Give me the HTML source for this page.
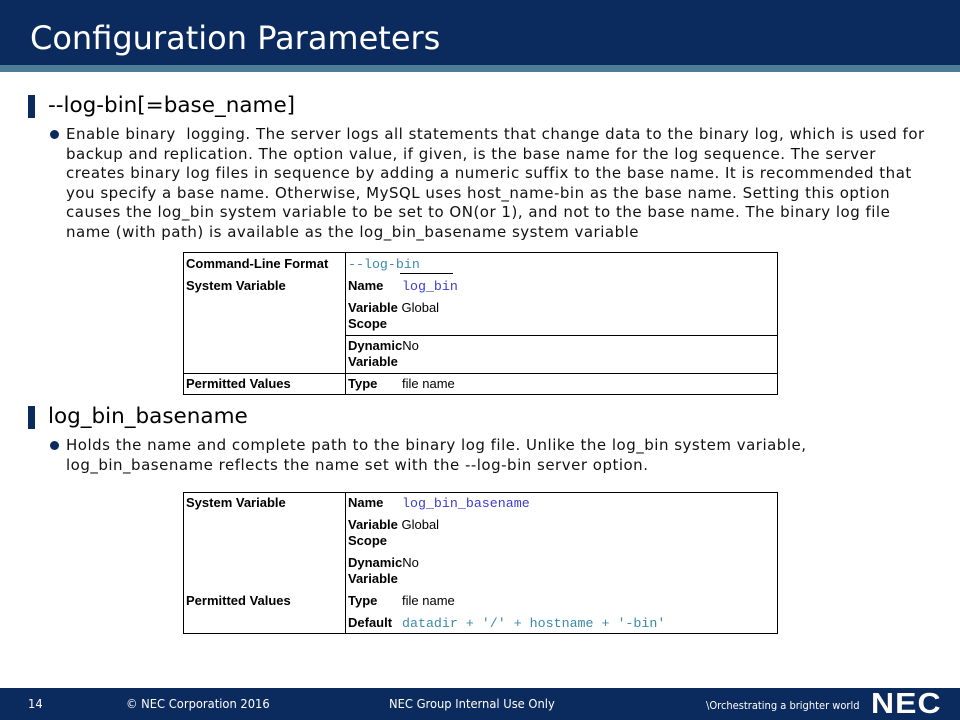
<!DOCTYPE html>
<html><head><meta charset="utf-8"><style>
*{margin:0;padding:0;box-sizing:border-box}
body{width:960px;height:720px;position:relative;background:#fff;overflow:hidden;font-family:"DejaVu Sans","Liberation Sans",sans-serif}
.a{position:absolute;white-space:nowrap}
.hdr{left:0;top:0;width:960px;height:65px;background:#0b2a5e}
.strip{left:0;top:65px;width:960px;height:7px;background:#4d7d96}
.title{left:30px;top:17px;font-size:32px;color:#fff;line-height:42px}
.mk{width:7px;height:23px;background:#0b2a5e}
.h{font-size:21.5px;color:#000;line-height:24px}
.dot{width:9px;height:9px;border-radius:50%;background:#0b2a5e}
.p{font-size:15px;letter-spacing:0.5px;line-height:19.5px;color:#111}
.t{font-family:"Liberation Sans",Arial,sans-serif;font-size:13px;color:#000;line-height:14px}
.b{font-weight:bold}
.m{font-family:"Liberation Mono",monospace;font-size:13.3px;color:#3b3bd0}
.m2{font-family:"Liberation Mono",monospace;font-size:13.3px;color:#3a8aa8}
.box{border:1px solid #000}
.ln{background:#000}
.ftr{left:0;top:688px;width:960px;height:32px;background:#0b2a5e}
.f{font-size:12.8px;color:#fff;line-height:16px;top:697px;font-family:"DejaVu Sans Condensed","DejaVu Sans",sans-serif}
</style></head><body>
<div class="a hdr"></div><div class="a strip"></div>
<div class="a title">Configuration Parameters</div>

<div class="a mk" style="left:28px;top:95px"></div>
<div class="a h" style="left:48px;top:94px">--log-bin[=base_name]</div>
<div class="a dot" style="left:50px;top:130px"></div>
<div class="a p" style="left:66px;top:125px">Enable binary&nbsp; logging. The server logs all statements that change data to the binary log, which is used for<br>backup and replication. The option value, if given, is the base name for the log sequence. The server<br>creates binary log files in sequence by adding a numeric suffix to the base name. It is recommended that<br>you specify a base name. Otherwise, MySQL uses host_name-bin as the base name. Setting this option<br>causes the log_bin system variable to be set to ON(or 1), and not to the base name. The binary log file<br>name (with path) is available as the log_bin_basename system variable</div>

<div class="a box" style="left:183px;top:252px;width:595px;height:143px"></div>
<div class="a ln" style="left:345px;top:252px;width:1px;height:143px"></div>
<div class="a ln" style="left:345px;top:335px;width:433px;height:1px"></div>
<div class="a ln" style="left:183px;top:373px;width:595px;height:1px"></div>
<div class="a ln" style="left:400px;top:273px;width:53px;height:1px"></div>
<div class="a t b" style="left:186px;top:257px">Command-Line Format</div>
<div class="a t b" style="left:186px;top:279px">System Variable</div>
<div class="a t b" style="left:186px;top:377px">Permitted Values</div>
<div class="a m2" style="left:348px;top:257px">--log-bin</div>
<div class="a t b" style="left:348px;top:279px">Name</div>
<div class="a m" style="left:402px;top:279px">log_bin</div>
<div class="a t" style="left:348px;top:300px;line-height:16px"><b>Variable</b> Global<br><b>Scope</b></div>
<div class="a t" style="left:348px;top:338px;line-height:16px"><b>Dynamic</b>No<br><b>Variable</b></div>
<div class="a t b" style="left:348px;top:377px">Type</div>
<div class="a t" style="left:402px;top:377px">file name</div>

<div class="a mk" style="left:28px;top:406px"></div>
<div class="a h" style="left:48px;top:405px">log_bin_basename</div>
<div class="a dot" style="left:50px;top:441px"></div>
<div class="a p" style="left:66px;top:436px">Holds the name and complete path to the binary log file. Unlike the log_bin system variable,<br>log_bin_basename reflects the name set with the --log-bin server option.</div>

<div class="a box" style="left:183px;top:492px;width:595px;height:142px"></div>
<div class="a ln" style="left:345px;top:492px;width:1px;height:142px"></div>
<div class="a t b" style="left:186px;top:496px">System Variable</div>
<div class="a t b" style="left:186px;top:594px">Permitted Values</div>
<div class="a t b" style="left:348px;top:496px">Name</div>
<div class="a m" style="left:402px;top:496px">log_bin_basename</div>
<div class="a t" style="left:348px;top:517px;line-height:16px"><b>Variable</b> Global<br><b>Scope</b></div>
<div class="a t" style="left:348px;top:555px;line-height:16px"><b>Dynamic</b>No<br><b>Variable</b></div>
<div class="a t b" style="left:348px;top:594px">Type</div>
<div class="a t" style="left:402px;top:594px">file name</div>
<div class="a t b" style="left:348px;top:616px">Default</div>
<div class="a m2" style="left:402px;top:616px">datadir + '/' + hostname + '-bin'</div>

<div class="a ftr"></div>
<div class="a f" style="left:28px">14</div>
<div class="a f" style="left:126px">© NEC Corporation 2016</div>
<div class="a f" style="left:389px">NEC Group Internal Use Only</div>
<div class="a f" style="left:706px;font-size:11px;top:698px">\Orchestrating a brighter world</div>
<div class="a" style="left:871px;top:689px;font-family:'Liberation Sans',sans-serif;font-weight:bold;font-size:29px;color:#fff;line-height:30px;letter-spacing:1px;transform:scaleX(1.1);transform-origin:left">NEC</div>
</body></html>
